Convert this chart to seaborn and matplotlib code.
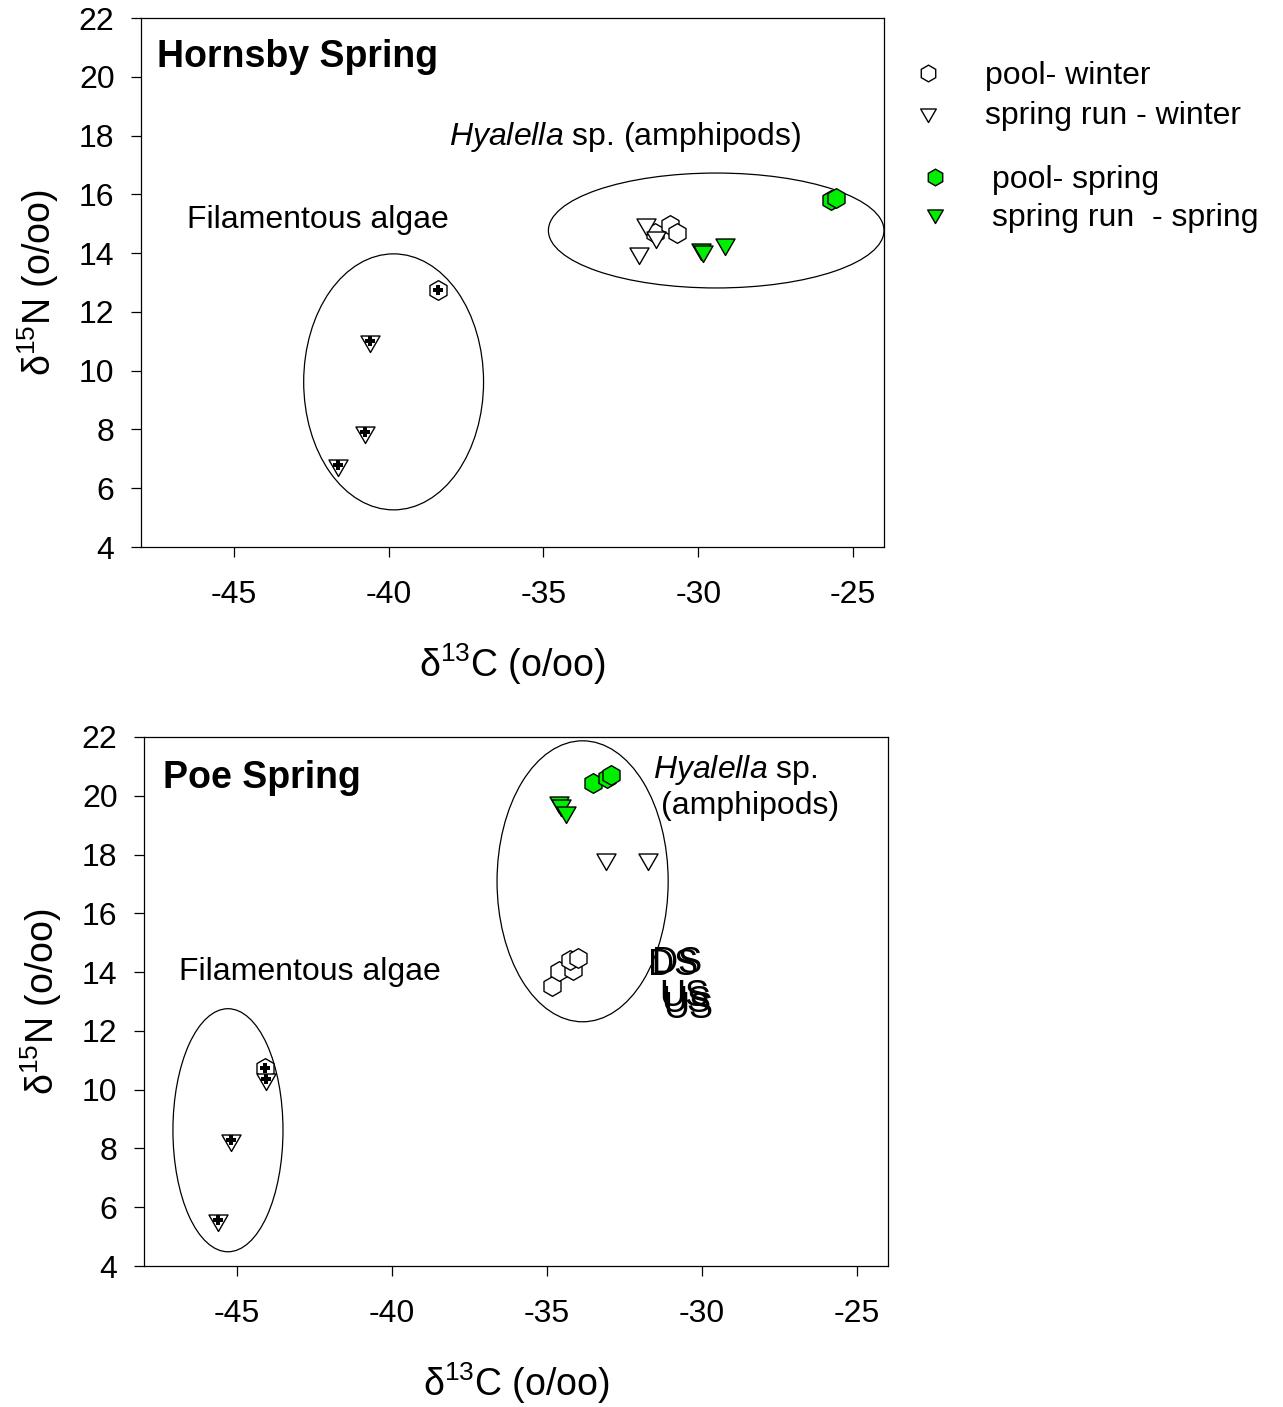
import matplotlib
matplotlib.use("Agg")
import matplotlib.pyplot as plt
from matplotlib.lines import Line2D
from matplotlib.patches import Ellipse
from matplotlib.path import Path
import seaborn as sns

# ---- Hornsby Spring (top panel) ----
hs_pool_winter_x = [-31.4, -30.9, -30.7]
hs_pool_winter_y = [14.7, 14.95, 14.7]
hs_run_winter_x = [-31.7, -31.9, -31.35]
hs_run_winter_y = [15.0, 14.0, 14.55]
hs_pool_spring_x = [-25.7, -25.55]
hs_pool_spring_y = [15.8, 15.88]
hs_run_spring_x = [-29.9, -29.85, -29.15]
hs_run_spring_y = [14.15, 14.08, 14.3]
hs_algae_pool_x = [-38.4]
hs_algae_pool_y = [12.75]
hs_algae_run_x = [-40.6, -40.75, -41.65]
hs_algae_run_y = [11.0, 7.9, 6.8]

# ---- Poe Spring (bottom panel) ----
ps_pool_winter_x = [-34.85, -34.6, -34.15, -34.25, -34.0]
ps_pool_winter_y = [13.52, 14.05, 14.07, 14.4, 14.47]
ps_run_winter_x = [-33.1, -31.75]
ps_run_winter_y = [17.85, 17.85]
ps_pool_spring_x = [-33.5, -33.05, -32.95]
ps_pool_spring_y = [20.45, 20.6, 20.7]
ps_run_spring_x = [-34.6, -34.55, -34.4]
ps_run_spring_y = [19.8, 19.7, 19.45]
ps_algae_pool_x = [-44.1]
ps_algae_pool_y = [10.75]
ps_algae_run_x = [-44.05, -45.2, -45.6]
ps_algae_run_y = [10.35, 8.3, 5.55]

# site labels written over each other in the Poe panel
ds_label_x = [-30.94, -30.81]
ds_label_y = [14.21, 14.31]
us_label_x = [-30.58, -30.52, -30.45]
us_label_y = [13.16, 12.95, 12.75]

# cluster ellipses: (centre x, centre y, width, height)
hs_amphipod_ellipse = (-29.42, 14.77, 10.84, 3.91)
hs_algae_ellipse = (-39.84, 9.62, 5.81, 8.71)
ps_amphipod_ellipse = (-33.85, 17.09, 5.52, 9.56)
ps_algae_ellipse = (-45.29, 8.62, 3.55, 8.27)

x_ticks = [-45, -40, -35, -30, -25]
y_ticks = [4, 6, 8, 10, 12, 14, 16, 18, 20, 22]

GREEN = "#00ee00"
HEX = "h"
# equilateral, point-down triangle centred on its centroid
TRI = Path([(-1.0, 0.577), (1.0, 0.577), (0.0, -1.155), (-1.0, 0.577)], closed=True)

sns.set_theme(style="ticks")
plt.rcParams["font.family"] = ["Liberation Sans", "DejaVu Sans"]
plt.rcParams["mathtext.fontset"] = "custom"
plt.rcParams["mathtext.rm"] = "Liberation Sans"
plt.rcParams["mathtext.it"] = "Liberation Sans:italic"
plt.rcParams["mathtext.bf"] = "Liberation Sans:bold"
plt.rcParams["axes.unicode_minus"] = False
plt.rcParams["text.color"] = "black"
plt.rcParams["axes.labelcolor"] = "black"

fig = plt.figure(figsize=(12.83, 14.07), dpi=100)
ax_top = fig.add_axes([0.1099, 0.6112, 0.5791, 0.376])
ax_bot = fig.add_axes([0.1122, 0.1002, 0.5799, 0.376])


def points(ax, x, y, marker, size, face):
    sns.scatterplot(x=x, y=y, ax=ax, marker=marker, s=size, color=face,
                    edgecolor="black", linewidth=1.0, legend=False, zorder=3)


def crosses(ax, x, y):
    sns.scatterplot(x=x, y=y, ax=ax, marker="P", s=45, color="black",
                    linewidth=0, legend=False, zorder=4)


def style_axes(ax):
    ax.set_xlim(-48, -24)
    ax.set_ylim(4, 22)
    ax.set_xticks(x_ticks)
    ax.set_yticks(y_ticks)
    for side in ["top", "right", "left", "bottom"]:
        ax.spines[side].set_visible(True)
        ax.spines[side].set_linewidth(0.9)
        ax.spines[side].set_color("black")
    ax.tick_params(axis="both", direction="out", length=7, width=0.9,
                   labelsize=23, colors="black")
    ax.tick_params(axis="x", pad=17)
    ax.tick_params(axis="y", pad=12)
    ax.set_xlabel("\u03b4$^{13}$C (o/oo)", fontsize=27, labelpad=22)
    ax.set_ylabel("\u03b4$^{15}$N (o/oo)", fontsize=27, labelpad=13)
    ax.grid(False)


def ellipse(ax, spec):
    cx, cy, w, h = spec
    ax.add_patch(Ellipse((cx, cy), w, h, facecolor="none",
                         edgecolor="black", linewidth=0.9, zorder=2))


# top panel
points(ax_top, hs_pool_winter_x, hs_pool_winter_y, HEX, 200, "white")
points(ax_top, hs_run_winter_x, hs_run_winter_y, TRI, 250, "white")
points(ax_top, hs_pool_spring_x, hs_pool_spring_y, HEX, 200, GREEN)
points(ax_top, hs_run_spring_x, hs_run_spring_y, TRI, 250, GREEN)
points(ax_top, hs_algae_pool_x, hs_algae_pool_y, HEX, 200, "white")
points(ax_top, hs_algae_run_x, hs_algae_run_y, TRI, 250, "white")
crosses(ax_top, hs_algae_pool_x + hs_algae_run_x, hs_algae_pool_y + hs_algae_run_y)
ellipse(ax_top, hs_amphipod_ellipse)
ellipse(ax_top, hs_algae_ellipse)
style_axes(ax_top)
ax_top.text(0.0215, 0.926, "Hornsby Spring", transform=ax_top.transAxes,
            fontsize=27, fontweight="bold", va="center", ha="left")
ax_top.text(-46.52, 15.13, "Filamentous algae", fontsize=23, va="center")
ax_top.text(-38.06, 17.95, r"$\mathit{Hyalella}$ sp. (amphipods)",
            fontsize=23, va="center")

# bottom panel
points(ax_bot, ps_pool_winter_x, ps_pool_winter_y, HEX, 200, "white")
points(ax_bot, ps_run_winter_x, ps_run_winter_y, TRI, 250, "white")
points(ax_bot, ps_pool_spring_x, ps_pool_spring_y, HEX, 200, GREEN)
points(ax_bot, ps_run_spring_x, ps_run_spring_y, TRI, 250, GREEN)
points(ax_bot, ps_algae_pool_x, ps_algae_pool_y, HEX, 200, "white")
points(ax_bot, ps_algae_run_x, ps_algae_run_y, TRI, 250, "white")
crosses(ax_bot, ps_algae_pool_x + ps_algae_run_x, ps_algae_pool_y + ps_algae_run_y)
ellipse(ax_bot, ps_amphipod_ellipse)
ellipse(ax_bot, ps_algae_ellipse)
style_axes(ax_bot)
ax_bot.text(0.0255, 0.922, "Poe Spring", transform=ax_bot.transAxes,
            fontsize=27, fontweight="bold", va="center", ha="left")
ax_bot.text(-46.87, 14.01, "Filamentous algae", fontsize=23, va="center")
ax_bot.text(-31.58, 20.88, r"$\mathit{Hyalella}$ sp.", fontsize=23, va="center")
ax_bot.text(-31.32, 19.65, "(amphipods)", fontsize=23, va="center")
for x, y in zip(ds_label_x, ds_label_y):
    ax_bot.text(x, y, "DS", fontsize=26, ha="center", va="center")
for x, y in zip(us_label_x, us_label_y):
    ax_bot.text(x, y, "US", fontsize=26, ha="center", va="center")

# legend, in two groups
winter_handles = [
    Line2D([], [], linestyle="none", marker=HEX, markersize=12,
           markerfacecolor="white", markeredgecolor="black", markeredgewidth=1.0),
    Line2D([], [], linestyle="none", marker=TRI, markersize=13,
           markerfacecolor="white", markeredgecolor="black", markeredgewidth=1.0),
]
spring_handles = [
    Line2D([], [], linestyle="none", marker=HEX, markersize=12,
           markerfacecolor=GREEN, markeredgecolor="black", markeredgewidth=1.0),
    Line2D([], [], linestyle="none", marker=TRI, markersize=13,
           markerfacecolor=GREEN, markeredgecolor="black", markeredgewidth=1.0),
]
leg1 = ax_top.legend(winter_handles, ["pool- winter", "spring run - winter"],
                     loc="upper left", bbox_to_anchor=(912 / 1283, 1 - 61 / 1407),
                     bbox_transform=fig.transFigure, frameon=False, fontsize=23,
                     handlelength=1.0, handletextpad=1.29, labelspacing=0.32,
                     borderpad=0, borderaxespad=0)
ax_top.add_artist(leg1)
ax_top.legend(spring_handles, ["pool- spring", "spring run  - spring"],
              loc="upper left", bbox_to_anchor=(919 / 1283, 1 - 165 / 1407),
              bbox_transform=fig.transFigure, frameon=False, fontsize=23,
              handlelength=1.0, handletextpad=1.29, labelspacing=0.24,
              borderpad=0, borderaxespad=0)

plt.savefig("out.png", dpi=100)
